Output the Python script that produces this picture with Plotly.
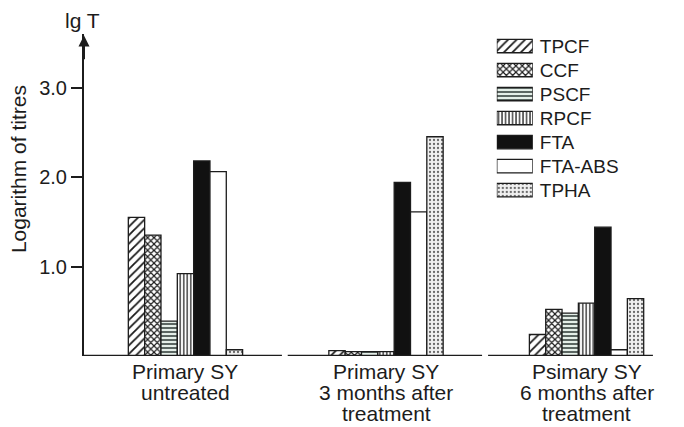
import plotly.graph_objects as go

# Patient groups (x categories) and their two/three-line captions
groups = ["untreated", "3 months", "6 months"]
group_labels = [
    ["Primary SY", "untreated"],
    ["Primary SY", "3 months after", "treatment"],
    ["Psimary SY", "6 months after", "treatment"],
]

# Test names
series = ["TPCF", "CCF", "PSCF", "RPCF", "FTA", "FTA-ABS", "TPHA"]

# Logarithm of titres per test, one value per group
tpcf = [1.55, 0.06, 0.24]
ccf = [1.35, 0.05, 0.52]
pscf = [0.39, 0.05, 0.48]
rpcf = [0.92, 0.05, 0.59]
fta = [2.18, 1.94, 1.44]
fta_abs = [2.06, 1.61, 0.07]
tpha = [0.07, 2.45, 0.64]

values = [tpcf, ccf, pscf, rpcf, fta, fta_abs, tpha]

# Fill style for each test: (pattern shape, background, foreground, size, solidity)
styles = {
    "TPCF": ("/", "white", "#1a1a1a", 6, 0.3),
    "CCF": ("x", "white", "#1a1a1a", 4.5, 0.45),
    "PSCF": ("-", "#e4eee8", "#1f2b28", 4, 0.35),
    "RPCF": ("|", "white", "#1a1a1a", 3.5, 0.35),
    "FTA": ("", "#111111", "#111111", 8, 0.3),
    "FTA-ABS": ("", "white", "#111111", 8, 0.3),
    "TPHA": (".", "#f1f1f1", "#6a6a6a", 4, 0.25),
}

FONT = "Liberation Sans, Arial, Helvetica, sans-serif"
INK = "#1c1c1c"


def marker_for(name):
    shape, bg, fg, size, sol = styles[name]
    return dict(
        color=bg,
        line=dict(color=INK, width=1.3),
        pattern=dict(shape=shape, bgcolor=bg, fgcolor=fg, size=size,
                     solidity=sol, fillmode="replace"),
    )


fig = go.Figure()

# Grouped bars
for name, vals in zip(series, values):
    fig.add_trace(go.Bar(
        x=groups, y=vals, name=name, marker=marker_for(name),
        showlegend=False, xaxis="x", yaxis="y",
    ))

# Key: one wide swatch per test on a small inset axis
for name in series:
    fig.add_trace(go.Bar(
        x=[1], y=[name], orientation="h", marker=marker_for(name),
        showlegend=False, xaxis="x2", yaxis="y2", hoverinfo="skip",
    ))

# Separate ground line under each group
spans = [(-0.506, 0.481), (-0.49, 0.479), (-0.491, 0.331)]
for i, (a, b) in enumerate(spans):
    fig.add_shape(type="line", xref="x", yref="y", x0=i + a, x1=i + b,
                  y0=0, y1=0, line=dict(color=INK, width=2.5))

annotations = []
# Arrow head on the value axis
annotations.append(dict(
    x=-0.506, y=3.58, ax=-0.506, ay=3.3, xref="x", yref="y",
    axref="x", ayref="y", text="", showarrow=True, arrowhead=2,
    arrowsize=1.1, arrowwidth=2, arrowcolor=INK,
))
annotations.append(dict(
    x=-0.506, y=1.0, xref="x", yref="paper", text="lg T",
    showarrow=False, xanchor="center", yanchor="bottom", xshift=-2,
    font=dict(size=21, family=FONT, color=INK),
))
annotations.append(dict(
    x=-0.108, y=0.581, xref="paper", yref="paper",
    text="Logarithm of titres", textangle=-90, showarrow=False,
    xanchor="center", yanchor="middle",
    font=dict(size=21, family=FONT, color=INK),
))
# Group captions, one line at a time
line_centres = [371, 392, 413]
for g, lines in zip(groups, group_labels):
    for k, txt in enumerate(lines):
        annotations.append(dict(
            x=g, y=(356 - line_centres[k]) / 322, xref="x", yref="paper",
            text=txt, showarrow=False, xanchor="center", yanchor="middle",
            font=dict(size=21, family=FONT, color=INK),
        ))

fig.update_layout(
    width=684, height=427,
    margin=dict(l=84, r=0, t=34, b=71),
    paper_bgcolor="white", plot_bgcolor="white",
    barmode="group", bargap=0.43, bargroupgap=0,
    font=dict(family=FONT, color=INK),
    xaxis=dict(
        domain=[0, 1], range=[-0.506, 2.486], showticklabels=False,
        showgrid=False, zeroline=False, showline=False, ticks="",
    ),
    yaxis=dict(
        range=[0, 3.598], tickvals=[1, 2, 3], ticktext=["1.0", "2.0", "3.0"],
        ticks="outside", ticklen=11, tickwidth=1.5, tickcolor=INK,
        showline=True, linewidth=2, linecolor=INK, showgrid=False,
        zeroline=False, tickfont=dict(size=20, family=FONT, color=INK),
    ),
    xaxis2=dict(
        domain=[0.688, 0.748], range=[0, 1], anchor="y2", visible=False,
    ),
    yaxis2=dict(
        domain=[0.478, 1.0], anchor="x2", side="right",
        categoryorder="array", categoryarray=series, autorange="reversed",
        showgrid=False, zeroline=False, showline=False, ticks="",
        ticklabelstandoff=6, tickfont=dict(size=19, family=FONT, color=INK),
    ),
    annotations=annotations,
)
fig.update_traces(selector=dict(xaxis="x2"), width=0.56)

fig.write_html("out.html")
